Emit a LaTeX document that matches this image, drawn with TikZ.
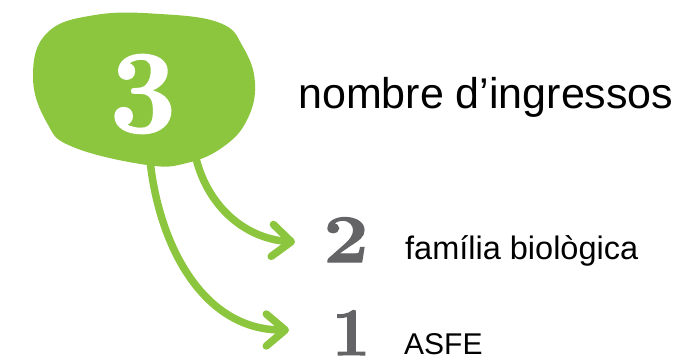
\documentclass[tikz,border=0pt]{standalone}
\usepackage{fontspec}
\usepackage{tikz}
\usetikzlibrary{arrows.meta}

\newfontfamily\labelfont{Liberation Sans}
\newfontfamily\numfont[BoldFeatures={FakeBold=1.6}]{Latin Modern Roman}
\definecolor{leafGreen}{HTML}{8CC63F}
\definecolor{numGrey}{HTML}{646466}

\begin{document}
\begin{tikzpicture}[
    x=1pt, y=1pt,
    bigNum/.style={font=\numfont\fontsize{118}{118}\bfseries\selectfont, text=white, inner sep=0pt},
    smallNum/.style={font=\numfont\fontsize{68}{68}\bfseries\selectfont, text=numGrey, inner sep=0pt},
    titleText/.style={font=\labelfont\fontsize{43}{43}\selectfont, inner sep=0pt, anchor=base west},
    labelText/.style={font=\labelfont\fontsize{32.5}{32.5}\selectfont, inner sep=0pt, anchor=base west},
    arrowLine/.style={draw=leafGreen, line width=7.5pt, line cap=round,
        -{Straight Barb[length=19pt, width=32pt, round]}},
    every node/.style={
        text centered,
        }
        ]
    \useasboundingbox (0, 0) rectangle (674, 359);

    % number nodes
    \node[smallNum, anchor=base] (two) at (346, 97) {\scalebox{1.18}[1]{2}};
    \node[smallNum, anchor=base] (one) at (351, 4) {1};

    \node[labelText] (family) at (405, 100) {família biològica};
    \node[labelText, font=\labelfont\fontsize{30}{30}\selectfont] (asfe) at (404, 4.5) {ASFE};

    % arrows go under the blob
    \coordinate (outerStart) at (149, 210);
    \coordinate (innerStart) at (194, 210);
    \coordinate (oneTip) at (289, 29);
    \coordinate (twoTip) at (295, 117);
    \draw[arrowLine] (outerStart) to[out=-86, in=180] (oneTip);
    \draw[arrowLine] (innerStart) to[out=-80, in=176] (twoTip);

    % blob
    \fill[leafGreen] plot[smooth cycle, tension=0.7] coordinates {
        (160, 345) (220, 336) (243, 312) (255, 276) (247, 239) (223, 212)
        (187, 196) (147, 194) (73, 212) (47, 236) (33, 282) (47, 326) (95, 344)};

    \node[bigNum, anchor=base] (three) at (143, 227) {3};
    \node[titleText] (total) at (298, 250) {nombre d’ingressos};
\end{tikzpicture}
\end{document}
